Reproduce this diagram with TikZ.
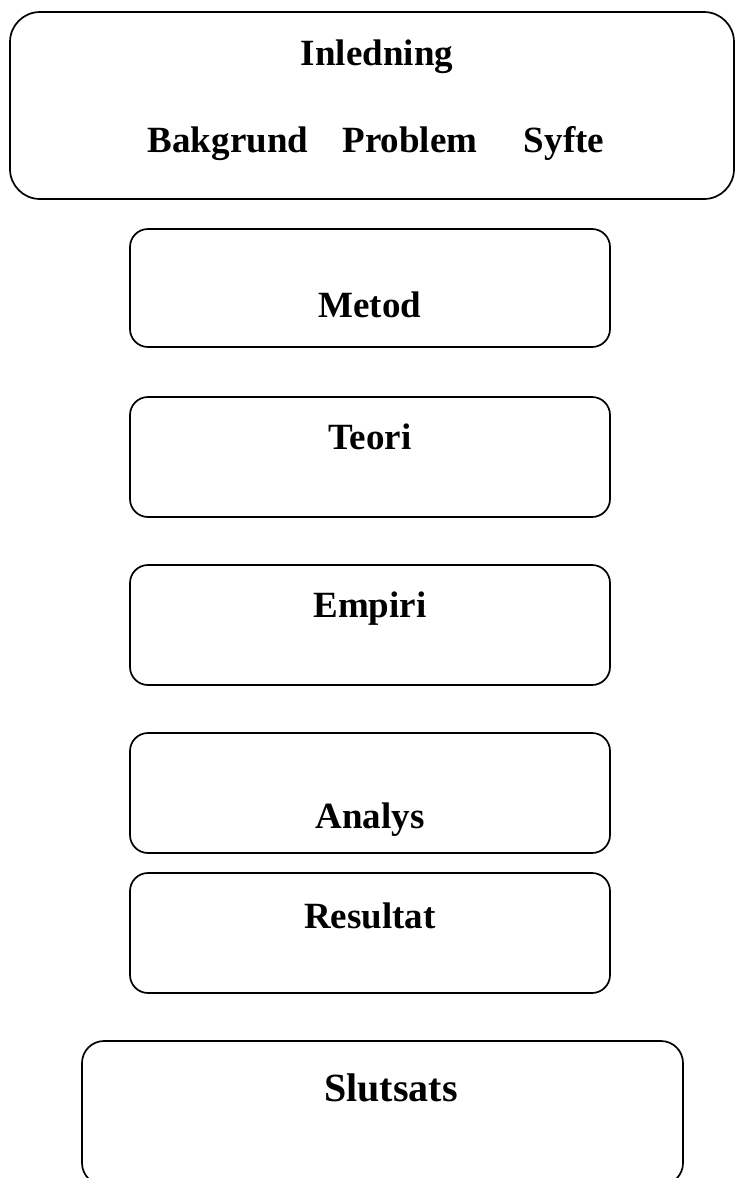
\documentclass[tikz,border=0pt]{standalone}
\usepackage{fontspec}
\setmainfont{Liberation Serif}

\begin{document}
\begin{tikzpicture}[x=1pt, y=-1pt,
  box/.style={draw, line width=1.7pt, rounded corners=18pt, inner sep=0pt},
  heading/.style={anchor=base, font=\fontsize{37}{44}\selectfont\bfseries}]
  \useasboundingbox (0,0) rectangle (735,1178);
  \clip (0,0) rectangle (735,1178);
  % Boxes
  \node[box, rounded corners=30pt, minimum width=724pt, minimum height=187pt] (inledning) at (372,105.5) {};
  \node[box, minimum width=480pt, minimum height=118pt] (metod) at (370,288) {};
  \node[box, minimum width=480pt, minimum height=120pt] (teori) at (370,457) {};
  \node[box, minimum width=480pt, minimum height=120pt] (empiri) at (370,625) {};
  \node[box, minimum width=480pt, minimum height=120pt] (analys) at (370,793) {};
  \node[box, minimum width=480pt, minimum height=120pt] (resultat) at (370,933) {};
  \node[box, rounded corners=22pt, minimum width=601pt, minimum height=144pt] (slutsats) at (382.5,1113) {};
  % Texts
  \node[heading] (inl) at (377,65) {Inledning};
  \node[heading] (bakgrund) at (228,152) {Bakgrund};
  \node[heading] (problem) at (410,152) {Problem};
  \node[heading] (syfte) at (564,152) {Syfte};
  \node[heading] (met) at (370,317) {Metod};
  \node[heading] (teo) at (370,449) {Teori};
  \node[heading] (emp) at (370,617) {Empiri};
  \node[heading] (ana) at (370,828) {Analys};
  \node[heading] (res) at (370,928) {Resultat};
  \node[heading, font=\fontsize{40}{48}\selectfont\bfseries] (slu) at (391,1101) {Slutsats};
\end{tikzpicture}
\end{document}
